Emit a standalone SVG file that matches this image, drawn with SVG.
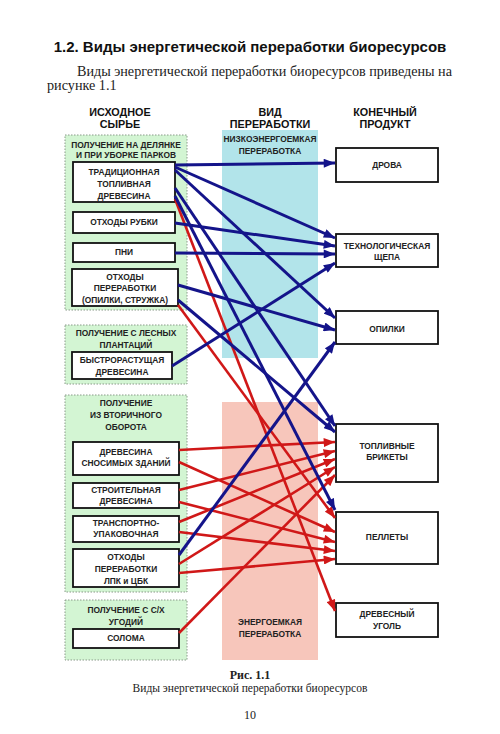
<svg xmlns="http://www.w3.org/2000/svg" width="500" height="734" viewBox="0 0 500 734">
<defs>
<style>
.bg{fill:#ffffff}
.grp{fill:#d3f5d3;stroke:#8a9a8a;stroke-width:1;stroke-dasharray:1.5,1.5}
.box{fill:#ffffff;stroke:#111111;stroke-width:1.8}
.t{font-family:"Liberation Sans",Arial,sans-serif;font-weight:bold;font-size:8.4px;fill:#222222;text-anchor:middle}
.h{font-family:"Liberation Sans",Arial,sans-serif;font-weight:bold;font-size:10.8px;fill:#111111;text-anchor:middle}
.serif{font-family:"Liberation Serif","Times New Roman",serif;fill:#222222}
.b{fill:none;stroke:#14148a;stroke-width:3}
.r{fill:none;stroke:#d01818;stroke-width:2.6}
</style>
<marker id="ab" viewBox="0 0 10 8" refX="10" refY="4" markerWidth="12" markerHeight="9" markerUnits="userSpaceOnUse" orient="auto"><path d="M0,0 L10,4 L0,8 z" fill="#14148a"/></marker>
<marker id="ar" viewBox="0 0 10 8" refX="10" refY="4" markerWidth="12" markerHeight="9" markerUnits="userSpaceOnUse" orient="auto"><path d="M0,0 L10,4 L0,8 z" fill="#d01818"/></marker>
</defs>
<rect class="bg" x="0" y="0" width="500" height="734"/>

<g id="heading">
<text x="250" y="52" font-family="Liberation Sans, Arial, sans-serif" font-weight="bold" font-size="15" fill="#111" text-anchor="middle">1.2. Виды энергетической переработки биоресурсов</text>
<text class="serif" x="77" y="76" font-size="14.2" textLength="375" lengthAdjust="spacing">Виды энергетической переработки биоресурсов приведены на</text>
<text class="serif" x="47" y="90" font-size="14.2">рисунке 1.1</text>
</g>

<g id="column-headers">
<text class="h" x="120" y="116">ИСХОДНОЕ</text>
<text class="h" x="120" y="128">СЫРЬЕ</text>
<text class="h" x="270" y="116">ВИД</text>
<text class="h" x="270" y="128">ПЕРЕРАБОТКИ</text>
<text class="h" x="385" y="116">КОНЕЧНЫЙ</text>
<text class="h" x="385" y="128">ПРОДУКТ</text>
</g>

<g id="band-low">
<rect x="222" y="130" width="96" height="228" fill="#b2e4ea"/>
<text class="t" x="270" y="142">НИЗКОЭНЕРГОЕМКАЯ</text>
<text class="t" x="270" y="154">ПЕРЕРАБОТКА</text>
</g>
<g id="band-high">
<rect x="222" y="402" width="96" height="258" fill="#f7c6bb"/>
<text class="t" x="270" y="625">ЭНЕРГОЕМКАЯ</text>
<text class="t" x="270" y="637">ПЕРЕРАБОТКА</text>
</g>

<g id="group-felling">
<rect class="grp" x="65" y="135" width="122" height="175"/>
<text class="t" x="126" y="148">ПОЛУЧЕНИЕ НА ДЕЛЯНКЕ</text>
<text class="t" x="126" y="158">И ПРИ УБОРКЕ ПАРКОВ</text>
</g>
<g id="node-traditional">
<rect class="box" x="73" y="162" width="102" height="40"/>
<text class="t" x="124" y="175">ТРАДИЦИОННАЯ</text>
<text class="t" x="124" y="187">ТОПЛИВНАЯ</text>
<text class="t" x="124" y="199">ДРЕВЕСИНА</text>
</g>
<g id="node-logging-waste">
<rect class="box" x="73" y="212" width="102" height="21"/>
<text class="t" x="124" y="225">ОТХОДЫ РУБКИ</text>
</g>
<g id="node-stumps">
<rect class="box" x="73" y="243" width="102" height="19"/>
<text class="t" x="124" y="255">ПНИ</text>
</g>
<g id="node-processing-waste">
<rect class="box" x="72" y="269" width="106" height="37"/>
<text class="t" x="125" y="280">ОТХОДЫ</text>
<text class="t" x="125" y="291">ПЕРЕРАБОТКИ</text>
<text class="t" x="125" y="303">(ОПИЛКИ, СТРУЖКА)</text>
</g>

<g id="group-plantations">
<rect class="grp" x="65" y="325" width="122" height="59"/>
<text class="t" x="126" y="336">ПОЛУЧЕНИЕ С ЛЕСНЫХ</text>
<text class="t" x="126" y="348">ПЛАНТАЦИЙ</text>
</g>
<g id="node-fastgrowing">
<rect class="box" x="72" y="352" width="100" height="27"/>
<text class="t" x="122" y="363">БЫСТРОРАСТУЩАЯ</text>
<text class="t" x="122" y="375">ДРЕВЕСИНА</text>
</g>

<g id="group-secondary">
<rect class="grp" x="65" y="395" width="122" height="197"/>
<text class="t" x="126" y="406">ПОЛУЧЕНИЕ</text>
<text class="t" x="126" y="418">ИЗ ВТОРИЧНОГО</text>
<text class="t" x="126" y="430">ОБОРОТА</text>
</g>
<g id="node-demolition">
<rect class="box" x="73" y="442" width="106" height="33"/>
<text class="t" x="126" y="455">ДРЕВЕСИНА</text>
<text class="t" x="126" y="466">СНОСИМЫХ ЗДАНИЙ</text>
</g>
<g id="node-construction">
<rect class="box" x="73" y="483" width="106" height="25"/>
<text class="t" x="126" y="493">СТРОИТЕЛЬНАЯ</text>
<text class="t" x="126" y="504">ДРЕВЕСИНА</text>
</g>
<g id="node-packaging">
<rect class="box" x="73" y="516" width="106" height="26"/>
<text class="t" x="126" y="526">ТРАНСПОРТНО-</text>
<text class="t" x="126" y="537">УПАКОВОЧНАЯ</text>
</g>
<g id="node-lpk">
<rect class="box" x="73" y="549" width="106" height="38"/>
<text class="t" x="126" y="560">ОТХОДЫ</text>
<text class="t" x="126" y="572">ПЕРЕРАБОТКИ</text>
<text class="t" x="126" y="584">ЛПК и ЦБК</text>
</g>

<g id="group-agri">
<rect class="grp" x="65" y="600" width="122" height="60"/>
<text class="t" x="126" y="613">ПОЛУЧЕНИЕ С С/Х</text>
<text class="t" x="126" y="625">УГОДИЙ</text>
</g>
<g id="node-straw">
<rect class="box" x="73" y="629" width="106" height="19"/>
<text class="t" x="126" y="641">СОЛОМА</text>
</g>

<g id="node-firewood">
<rect class="box" x="336" y="148" width="102" height="34"/>
<text class="t" x="387" y="168">ДРОВА</text>
</g>
<g id="node-chips">
<rect class="box" x="336" y="234" width="102" height="33"/>
<text class="t" x="387" y="249">ТЕХНОЛОГИЧЕСКАЯ</text>
<text class="t" x="387" y="260">ЩЕПА</text>
</g>
<g id="node-sawdust">
<rect class="box" x="336" y="311" width="102" height="33"/>
<text class="t" x="387" y="332">ОПИЛКИ</text>
</g>
<g id="node-briquettes">
<rect class="box" x="336" y="424" width="102" height="58"/>
<text class="t" x="387" y="449">ТОПЛИВНЫЕ</text>
<text class="t" x="387" y="460">БРИКЕТЫ</text>
</g>
<g id="node-pellets">
<rect class="box" x="336" y="512" width="102" height="52"/>
<text class="t" x="387" y="540">ПЕЛЛЕТЫ</text>
</g>
<g id="node-charcoal">
<rect class="box" x="336" y="603" width="102" height="34"/>
<text class="t" x="387" y="617">ДРЕВЕСНЫЙ</text>
<text class="t" x="387" y="629">УГОЛЬ</text>
</g>

<g id="connectors">
<line class="r" x1="175" y1="199" x2="335" y2="611" marker-end="url(#ar)"/>
<line class="r" x1="178" y1="305" x2="335" y2="518" marker-end="url(#ar)"/>
<line class="r" x1="179" y1="450" x2="335" y2="442" marker-end="url(#ar)"/>
<line class="r" x1="179" y1="462" x2="335" y2="532" marker-end="url(#ar)"/>
<line class="r" x1="179" y1="490" x2="335" y2="451" marker-end="url(#ar)"/>
<line class="r" x1="179" y1="502" x2="335" y2="542" marker-end="url(#ar)"/>
<line class="r" x1="179" y1="522" x2="335" y2="459" marker-end="url(#ar)"/>
<line class="r" x1="179" y1="532" x2="335" y2="551" marker-end="url(#ar)"/>
<line class="r" x1="179" y1="564" x2="335" y2="467" marker-end="url(#ar)"/>
<line class="r" x1="179" y1="573" x2="335" y2="559" marker-end="url(#ar)"/>
<line class="r" x1="179" y1="633" x2="335" y2="475" marker-end="url(#ar)"/>
<line class="b" x1="175" y1="165" x2="335" y2="163" marker-end="url(#ab)"/>
<line class="b" x1="175" y1="167" x2="335" y2="238" marker-end="url(#ab)"/>
<line class="b" x1="175" y1="170" x2="335" y2="318" marker-end="url(#ab)"/>
<line class="b" x1="175" y1="188" x2="335" y2="426" marker-end="url(#ab)"/>
<line class="b" x1="175" y1="196" x2="335" y2="510" marker-end="url(#ab)"/>
<line class="b" x1="175" y1="223" x2="335" y2="246" marker-end="url(#ab)"/>
<line class="b" x1="175" y1="253" x2="335" y2="254" marker-end="url(#ab)"/>
<line class="b" x1="178" y1="285" x2="335" y2="330" marker-end="url(#ab)"/>
<line class="b" x1="178" y1="300" x2="335" y2="432" marker-end="url(#ab)"/>
<line class="b" x1="172" y1="366" x2="335" y2="263" marker-end="url(#ab)"/>
<line class="b" x1="179" y1="555" x2="335" y2="342" marker-end="url(#ab)"/>
</g>

<g id="caption">
<text class="serif" x="250" y="679" font-size="12" font-weight="bold" text-anchor="middle">Рис. 1.1</text>
<text class="serif" x="250" y="692" font-size="11.5" text-anchor="middle">Виды энергетической переработки биоресурсов</text>
<text class="serif" x="250" y="719" font-size="12" text-anchor="middle">10</text>
</g>
</svg>
